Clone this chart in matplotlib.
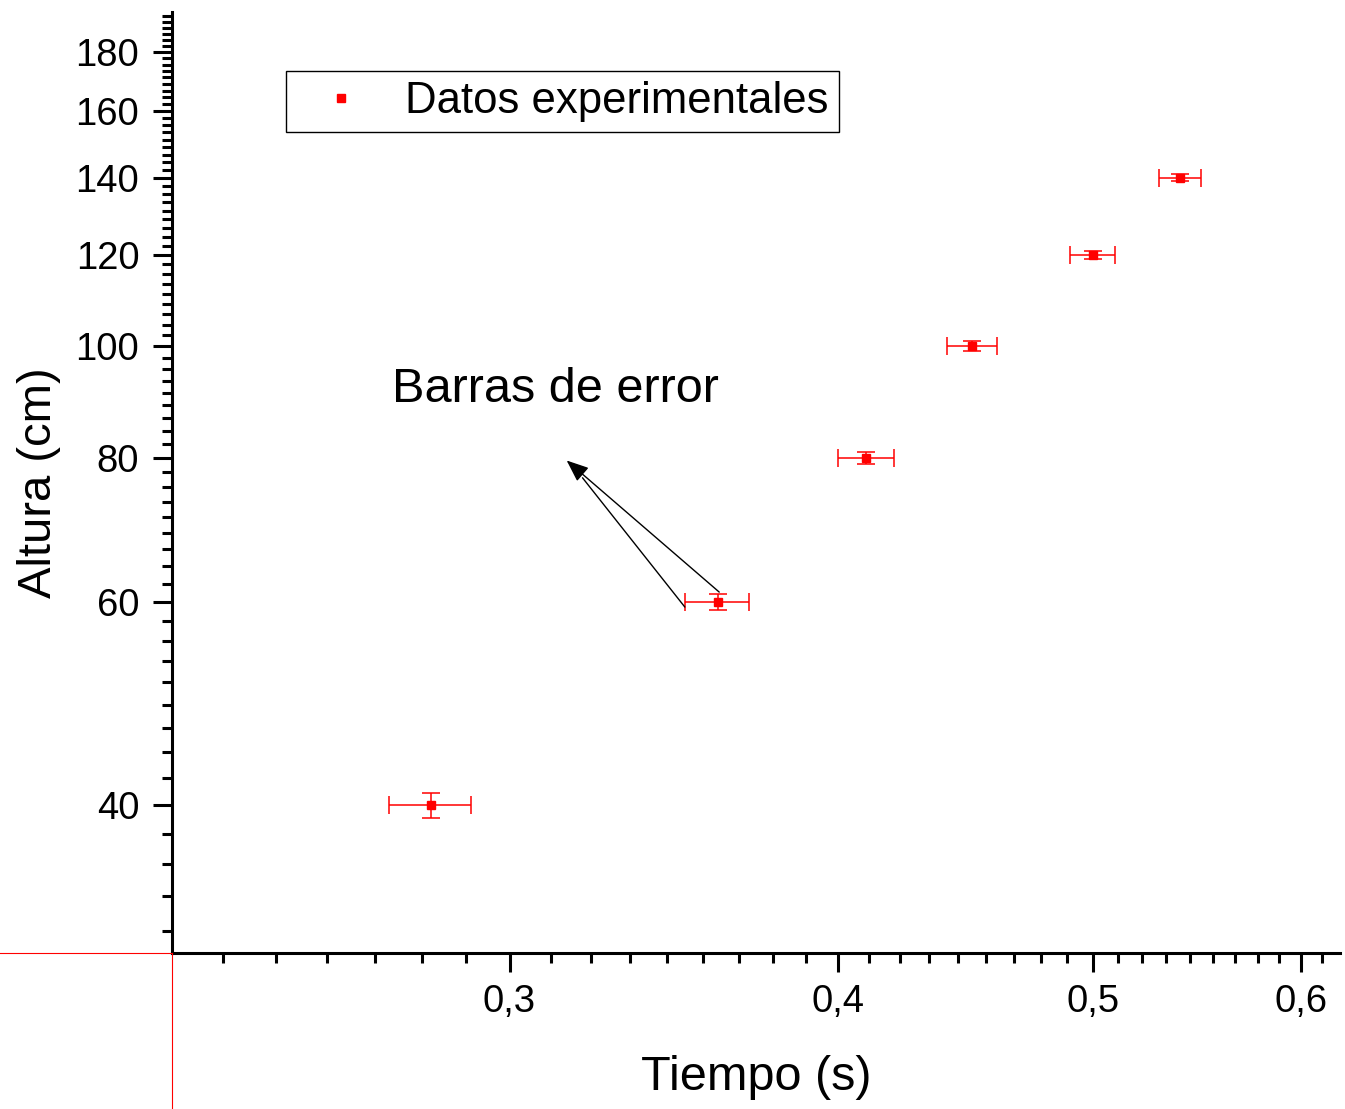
"""
Altura vs tiempo (log-log) con barras de error
"""

import numpy as np
import matplotlib
matplotlib.use("Agg")
import matplotlib.pyplot as plt
from matplotlib.lines import Line2D
from matplotlib.ticker import FixedLocator, FuncFormatter, NullFormatter

plt.rcParams["font.family"] = ["Liberation Sans", "DejaVu Sans"]

# data
tiempo = [0.280, 0.360, 0.410, 0.450, 0.500, 0.540]
altura = [40, 60, 80, 100, 120, 140]
err_tiempo = [0.01, 0.01, 0.01, 0.01, 0.01, 0.01]
err_altura = [1, 1, 1, 1, 1, 1]

x_major = [0.3, 0.4, 0.5, 0.6]
y_major = [40, 60, 80, 100, 120, 140, 160, 180]

fig = plt.figure(figsize=(13.45, 11.09), dpi=100)
axes = fig.add_axes([172 / 1345, 156 / 1109, 1168 / 1345, 941 / 1109])

axes.errorbar(
    tiempo,
    altura,
    xerr=err_tiempo,
    yerr=err_altura,
    fmt="s",
    color="red",
    ecolor="red",
    markersize=6,
    elinewidth=1.1,
    capsize=6.5,
    capthick=1.1,
)

axes.set_xscale("log")
axes.set_yscale("log")
axes.set_xlim(0.2232, 0.621)
axes.set_ylim(29.76, 195)

# ticks like Origin: linear steps on a log axis
axes.xaxis.set_major_locator(FixedLocator(x_major))
axes.xaxis.set_minor_locator(FixedLocator(np.arange(0.2, 0.65, 0.1 / 9)))
axes.yaxis.set_major_locator(FixedLocator(y_major))
axes.yaxis.set_minor_locator(FixedLocator(np.arange(40 - 20 / 9 * 5, 200, 20 / 9)))
axes.xaxis.set_major_formatter(FuncFormatter(lambda v, p: f"{v:.1f}".replace(".", ",")))
axes.yaxis.set_major_formatter(FuncFormatter(lambda v, p: f"{v:.0f}"))
axes.xaxis.set_minor_formatter(NullFormatter())
axes.yaxis.set_minor_formatter(NullFormatter())

axes.tick_params(which="major", length=13.5, width=2.2, labelsize=27.5, color="black")
axes.tick_params(which="minor", length=7, width=2.2)
axes.tick_params(axis="x", which="major", pad=9)
axes.tick_params(axis="y", which="major", pad=10)

for side in ["top", "right"]:
    axes.spines[side].set_visible(False)
for side in ["left", "bottom"]:
    axes.spines[side].set_linewidth(2.2)

axes.set_xlabel("Tiempo (s)", fontsize=35)
axes.set_ylabel("Altura (cm)", fontsize=34)
axes.xaxis.set_label_coords(0.5, -0.108)
axes.yaxis.set_label_coords(-0.095, 0.5)

# legend box: marker only, no error bars
handle = Line2D([], [], ls="none", marker="s", color="red", markersize=6)
leg = axes.legend(
    [handle],
    ["Datos experimentales"],
    loc="upper left",
    bbox_to_anchor=(0.0976, 0.9373),
    borderaxespad=0,
    fontsize=31.5,
    fancybox=False,
    edgecolor="black",
    framealpha=1,
    borderpad=0.23,
    handlelength=2.06,
    handletextpad=0.43,
    numpoints=1,
)
leg.get_frame().set_linewidth(1.0)

# annotation with arrow to the error bars
axes.text(0.1884, 0.5855, "Barras de error", transform=axes.transAxes,
          fontsize=35, ha="left", va="baseline")
axes.annotate(
    "",
    xy=(0.3154, 79.6),
    xytext=(0.3605, 61.2),
    arrowprops=dict(arrowstyle="-|>,head_length=1.35,head_width=0.55",
                    color="black", lw=1.0, shrinkA=0, shrinkB=0),
)
axes.annotate(
    "",
    xy=(0.3198, 76.9),
    xytext=(0.3498, 59.4),
    arrowprops=dict(arrowstyle="-", color="black", lw=1.0, shrinkA=0, shrinkB=0),
)

# red origin crosshair lines (Origin artifact)
fig.add_artist(Line2D([0, 172 / 1345], [156 / 1109, 156 / 1109],
                      transform=fig.transFigure, color="red", lw=0.8))
fig.add_artist(Line2D([172 / 1345, 172 / 1345], [0, 156 / 1109],
                      transform=fig.transFigure, color="red", lw=0.8))

plt.savefig("out.png", dpi=100)
